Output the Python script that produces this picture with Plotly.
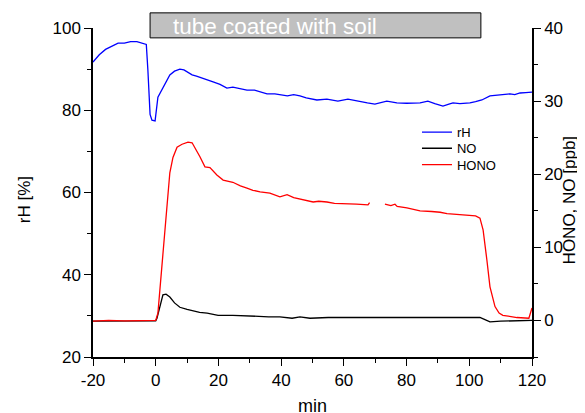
import plotly.graph_objects as go

# --- data ---
rh_t = [-20, -18, -16, -14, -12, -10, -8, -6, -4, -3, -2.5, -1.8, -1.2, -0.2, 0.7, 2.3,
        4.5, 6, 7.7, 9, 11.6, 13, 15.1, 18.3, 20.5, 22.7, 24.6, 27, 29.1, 31.5, 33,
        35.5, 38, 40, 42, 44, 46, 48, 51.4, 54.6, 56.5, 58.1, 61.3, 63, 65.1, 67.5,
        69.9, 71.5, 73.7, 76.9, 80, 84.3, 86.8, 89, 91.6, 93.5, 94.8, 97, 100.2, 102,
        104, 106.6, 110, 113, 114.5, 116.2, 118, 120]
rh_val = [91.7, 93.5, 94.8, 95.6, 96.3, 96.3, 96.7, 96.7, 96.2, 96.0, 89.8, 79.0, 77.6,
          77.4, 83.2, 85.4, 88.6, 89.5, 90.0, 89.8, 88.6, 88.3, 87.8, 86.9, 86.3, 85.4,
          85.6, 85.2, 84.9, 84.9, 84.5, 84.0, 84.0, 83.7, 83.5, 83.8, 83.5, 83.0, 82.5,
          82.7, 82.4, 82.2, 82.7, 82.5, 82.2, 81.8, 81.5, 81.8, 82.2, 81.8, 81.7, 81.8,
          82.2, 81.6, 81.0, 81.5, 81.8, 81.6, 81.8, 82.1, 82.5, 83.5, 83.8, 84.0, 83.8,
          84.2, 84.3, 84.4]

no_t = [-20, -10, 0, 0.4, 1.4, 2.3, 3.3, 4.5, 6, 7.7, 10, 11.9, 14, 16.4, 19.9, 24.6,
        29, 33.3, 36, 39.6, 43.5, 46, 49.2, 55, 61, 70, 80, 90, 100, 103.4, 105, 106.6,
        110, 120]
no_val = [-0.1, -0.1, -0.05, 0.3, 1.8, 3.5, 3.6, 3.2, 2.4, 1.8, 1.5, 1.3, 1.1, 1.0, 0.7,
          0.7, 0.6, 0.6, 0.5, 0.5, 0.3, 0.5, 0.3, 0.4, 0.4, 0.3, 0.4, 0.4, 0.4, 0.4, 0.1,
          -0.2, -0.1, 0.0]

hono_t = [-20, -15, -10, -5, 0, 0.7, 1.5, 2.5, 3.6, 4.5, 5.5, 6.8, 8.4, 10.3, 11.6, 13,
          14.1, 15.7, 17.3, 19.5, 21.5, 24.6, 27, 29.1, 31, 33.3, 36.4, 39.6, 41.9, 44,
          46, 48, 50.2, 52, 54.6, 57, 61, 64, 67.7, 68.2, 70, 73.1, 75, 76.3, 77, 80.1,
          82, 84.3, 88, 90.7, 92.9, 96, 100.2, 102, 103.4, 104.4, 105.6, 106.6, 108.2,
          109.5, 110.7, 113, 115.2, 119, 120]
hono_val = [-0.1, 0.0, -0.05, 0.0, 0.0, 1.0, 5.0, 11.0, 16.5, 20.2, 22.3, 23.7, 24.1,
            24.4, 24.3, 23.3, 22.4, 21.0, 20.9, 19.9, 19.2, 18.9, 18.4, 18.1, 17.8, 17.6,
            17.4, 16.9, 17.2, 16.8, 16.6, 16.4, 16.2, 16.3, 16.2, 16.0, 16.0, 15.9, 15.8,
            16.1, None, 15.9, 15.7, 15.9, 15.6, 15.4, 15.2, 15.0, 14.9, 14.8, 14.6, 14.5,
            14.4, 14.3, 14.0, 12.4, 8.3, 4.6, 1.9, 1.0, 0.7, 0.5, 0.4, 0.3, 1.7]

x_ticks = [-20, 0, 20, 40, 60, 80, 100, 120]
x_labels = ["-20", "0", "20", "40", "60", "80", "100", "120"]

FONT = "Liberation Sans, Arial, sans-serif"

fig = go.Figure()
fig.add_trace(go.Scatter(x=rh_t, y=rh_val, mode="lines", name="rH", legend="legend",
                         line=dict(color="#0000ff", width=1.3)))
fig.add_trace(go.Scatter(x=no_t, y=no_val, mode="lines", name="NO", yaxis="y2",
                         legend="legend2", line=dict(color="black", width=1.3)))
fig.add_trace(go.Scatter(x=hono_t, y=hono_val, mode="lines", name="HONO", yaxis="y2",
                         legend="legend3", connectgaps=False,
                         line=dict(color="#ff0000", width=1.3)))

# grey bar marking the coated-tube period
fig.add_shape(type="rect", xref="x", yref="paper", x0=-1.8, x1=103.7, y0=0.970, y1=1.046,
              fillcolor="#c0c0c0", line=dict(color="black", width=1))
fig.add_annotation(text="tube coated with soil", xref="x", yref="paper", x=5.0, y=1.006,
                   xanchor="left", yanchor="middle", showarrow=False,
                   font=dict(family=FONT, size=22.5, color="white"))

# axis titles
fig.add_annotation(text="min", xref="paper", yref="paper", x=0.5, y=-0.148,
                   xanchor="center", yanchor="middle", showarrow=False,
                   font=dict(family=FONT, size=18))
fig.add_annotation(text="rH [%]", xref="paper", yref="paper", x=-0.157, y=0.477,
                   xanchor="center", yanchor="middle", showarrow=False, textangle=-90,
                   font=dict(family=FONT, size=17))
fig.add_annotation(text="HONO, NO [ppb]", xref="paper", yref="paper", x=1.085, y=0.477,
                   xanchor="center", yanchor="middle", showarrow=False, textangle=-90,
                   font=dict(family=FONT, size=17))

axis_common = dict(showline=True, linecolor="black", linewidth=1.5, ticks="outside",
                   ticklen=7, tickwidth=1.2, tickcolor="black", showgrid=False,
                   zeroline=False, automargin=False,
                   tickfont=dict(family=FONT, size=17, color="black"))

legend_common = dict(x=0.738, xanchor="left", yanchor="top", bgcolor="rgba(0,0,0,0)",
                     font=dict(family=FONT, size=13))

# the page adds an 8px body margin, so the figure is 8px smaller than the window
fig.update_layout(
    width=577, height=405,
    margin=dict(l=85, r=53, t=20, b=56),
    paper_bgcolor="white", plot_bgcolor="white",
    font=dict(family=FONT, color="black"),
    showlegend=True,
    legend=dict(y=0.729, **legend_common),
    legend2=dict(y=0.680, **legend_common),
    legend3=dict(y=0.630, **legend_common),
    xaxis=dict(range=[-20, 120], tickmode="array", tickvals=x_ticks, ticktext=x_labels,
               minor=dict(dtick=10, tick0=0, ticks="outside", ticklen=4, tickcolor="black"),
               **axis_common),
    yaxis=dict(range=[20, 100], dtick=20, tick0=0,
               minor=dict(dtick=10, ticks="outside", ticklen=4, tickcolor="black"),
               **axis_common),
    yaxis2=dict(range=[-5, 40], dtick=10, tick0=0, overlaying="y", side="right",
                minor=dict(dtick=5, ticks="outside", ticklen=4, tickcolor="black"),
                **axis_common),
)

fig.write_html("out.html")
